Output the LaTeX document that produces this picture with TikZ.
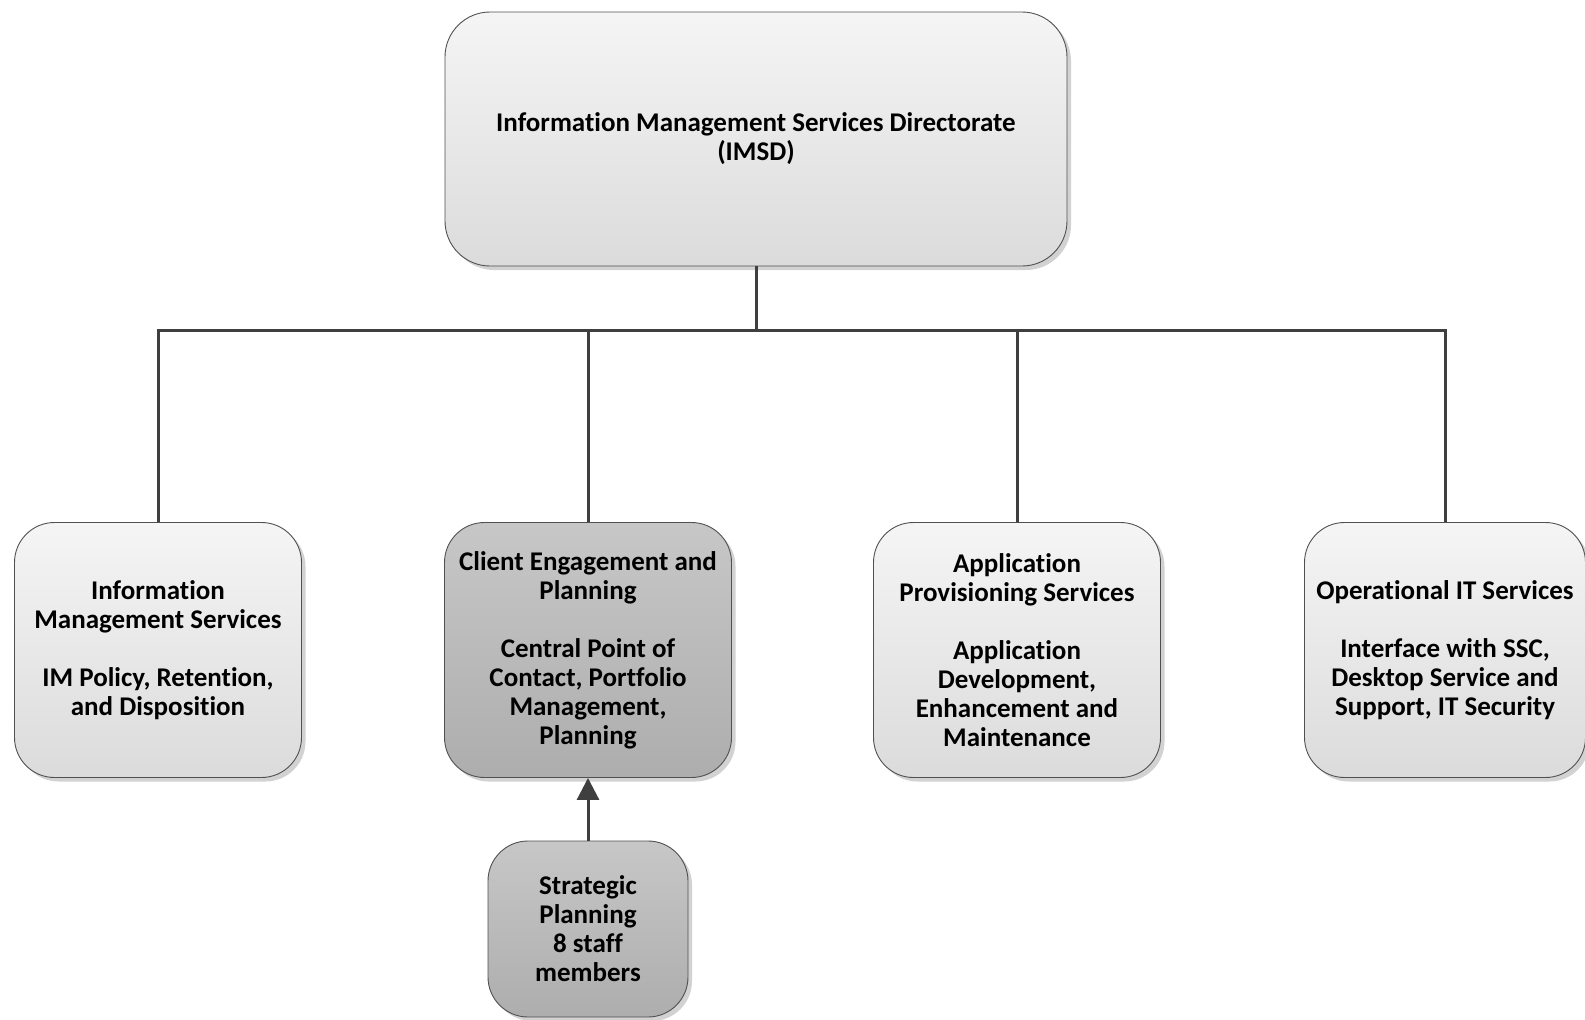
\documentclass[tikz,border=0pt]{standalone}
\usepackage{fontspec}
\setmainfont[Ligatures=NoCommon]{Carlito}
\usetikzlibrary{shadows,arrows.meta}
\definecolor{linec}{HTML}{3F3F3F}
\definecolor{bordc}{HTML}{505050}
\tikzset{
  box/.style={draw=bordc, line width=0.9pt, rounded corners=40pt, align=center,
    font=\fontsize{27}{29}\selectfont\bfseries, inner sep=0pt,
    drop shadow={shadow xshift=4pt, shadow yshift=-4pt, fill=gray!70, opacity=0.5}},
  lightbox/.style={box, top color=white!96!black, bottom color=white!86!black},
  darkbox/.style={box, top color=white!78!black, bottom color=white!68!black},
  conn/.style={draw=linec, line width=3pt},
}
\begin{document}
\begin{tikzpicture}[x=1pt,y=-1pt]
\useasboundingbox (0,0) rectangle (1585,1020);
\node[lightbox, rounded corners=45pt, minimum width=622pt, minimum height=254pt] (top) at (756,139)
  {Information Management Services Directorate\\(IMSD)};
\node[lightbox, minimum width=287pt, minimum height=255pt] (ims) at (158,650)
  {Information\\Management Services\\[29pt]IM Policy, Retention,\\and Disposition};
\node[darkbox, minimum width=287pt, minimum height=255pt] (cep) at (588,650)
  {Client Engagement and\\Planning\\[29pt]Central Point of\\Contact, Portfolio\\Management,\\Planning};
\node[lightbox, minimum width=287pt, minimum height=255pt] (aps) at (1017,650)
  {Application\\Provisioning Services\\[29pt]Application\\Development,\\Enhancement and\\Maintenance};
\node[lightbox, minimum width=281pt, minimum height=255pt] (ops) at (1445,650)
  {Operational IT Services\\[29pt]Interface with SSC,\\Desktop Service and\\Support, IT Security};
\node[darkbox, minimum width=200pt, minimum height=176pt] (sp) at (588,929)
  {Strategic\\Planning\\8 staff\\members};
\coordinate (bus) at (756,330);
\draw[conn] (top.south) -- (bus);
\draw[conn] (ims.north) |- (bus) -| (ops.north);
\draw[conn] (cep.north) -- (cep.north |- bus);
\draw[conn] (aps.north) -- (aps.north |- bus);
\draw[conn, -{Triangle[width=22pt,length=22pt]}, fill=linec] (sp.north) -- (cep.south);
\end{tikzpicture}
\end{document}
